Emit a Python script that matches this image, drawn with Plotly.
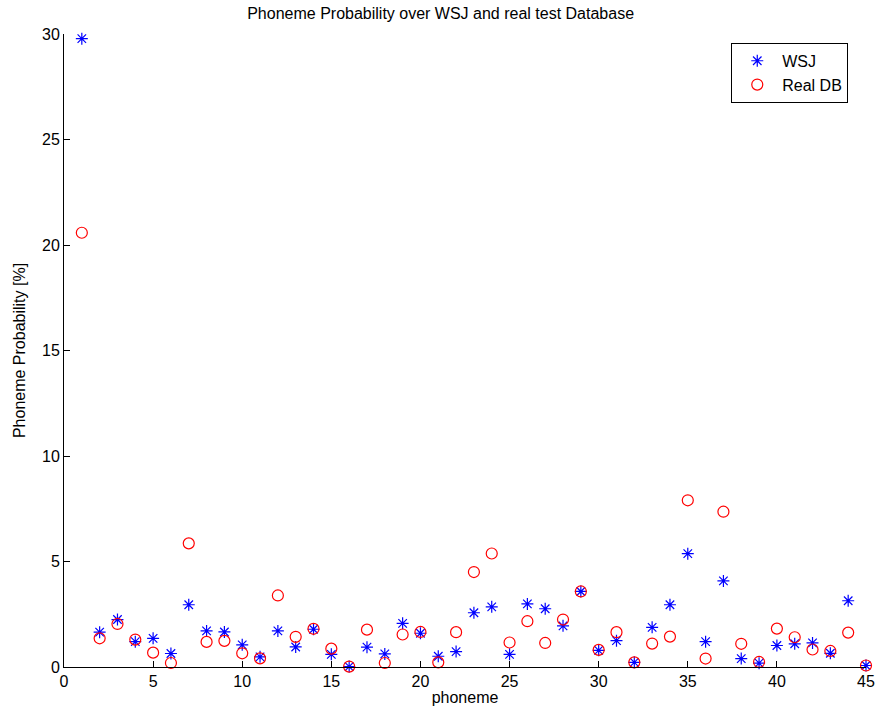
import plotly.graph_objects as go

phonemes = list(range(1, 46))
wsj = [29.78, 1.65, 2.25, 1.20, 1.36, 0.64, 2.95, 1.71, 1.66, 1.05,
       0.48, 1.71, 0.95, 1.79, 0.60, 0.02, 0.94, 0.62, 2.07, 1.60,
       0.51, 0.73, 2.57, 2.85, 0.60, 2.99, 2.76, 1.95, 3.58, 0.79,
       1.25, 0.22, 1.88, 2.95, 5.37, 1.20, 4.08, 0.40, 0.18, 1.02,
       1.10, 1.14, 0.65, 3.14, 0.07]
real_db = [20.58, 1.36, 2.04, 1.30, 0.68, 0.19, 5.86, 1.19, 1.24, 0.65,
           0.41, 3.39, 1.43, 1.81, 0.87, 0.02, 1.77, 0.19, 1.54, 1.66,
           0.22, 1.65, 4.50, 5.38, 1.16, 2.17, 1.14, 2.25, 3.58, 0.81,
           1.65, 0.22, 1.11, 1.44, 7.90, 0.40, 7.36, 1.10, 0.24, 1.82,
           1.41, 0.83, 0.76, 1.63, 0.07]
x_ticks = [0, 5, 10, 15, 20, 25, 30, 35, 40, 45]
y_ticks = [0, 5, 10, 15, 20, 25, 30]

font = "Liberation Sans, Arial, sans-serif"

fig = go.Figure()
fig.add_trace(go.Scatter(
    x=phonemes, y=wsj, mode="markers", name="WSJ",
    marker=dict(symbol="asterisk-open", size=10, color="blue",
                line=dict(color="blue", width=1.2)),
    cliponaxis=False,
))
fig.add_trace(go.Scatter(
    x=phonemes, y=real_db, mode="markers", name="Real DB",
    marker=dict(symbol="circle-open", size=11, color="red",
                line=dict(color="red", width=1.2)),
    cliponaxis=False,
))

fig.update_layout(
    width=876, height=715,
    margin=dict(l=64, r=10, t=34, b=48),
    paper_bgcolor="white", plot_bgcolor="white",
    font=dict(family=font, size=16, color="black"),
    title=dict(text="Phoneme Probability over WSJ and real test Database",
               x=0.503, xanchor="center", y=0.981, yanchor="middle",
               font=dict(family=font, size=16, color="black")),
    legend=dict(x=0.832, y=0.986, xanchor="left", yanchor="top",
                bordercolor="black", borderwidth=1, bgcolor="white",
                font=dict(family=font, size=16), tracegroupgap=0,
                itemsizing="trace", itemwidth=40),
    showlegend=True,
)
fig.update_xaxes(
    range=[0, 45], tickvals=x_ticks, ticks="inside", ticklen=6,
    tickcolor="black", showline=True, linecolor="black", linewidth=1,
    showgrid=False, zeroline=False, mirror=False, automargin=False,
    title=dict(text="phoneme", standoff=2, font=dict(size=16)),
    tickfont=dict(size=16),
)
fig.update_yaxes(
    range=[0, 30], tickvals=y_ticks, ticks="inside", ticklen=6,
    tickcolor="black", showline=True, linecolor="black", linewidth=1,
    showgrid=False, zeroline=False, mirror=False, automargin=False,
    title=dict(text="Phoneme Probability [%]", standoff=12, font=dict(size=16)),
    tickfont=dict(size=16),
)

fig.write_html("out.html")
